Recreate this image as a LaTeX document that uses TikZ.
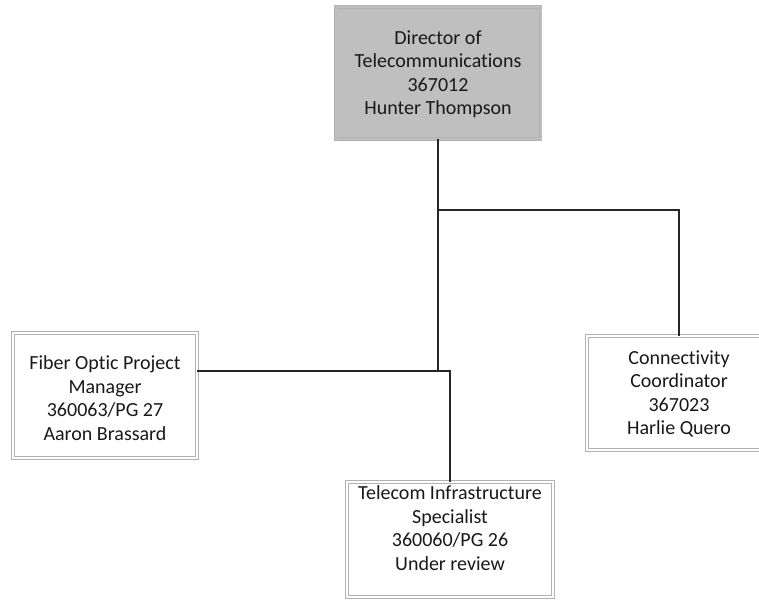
\documentclass[tikz,border=0pt]{standalone}
\usepackage{fontspec}
\setmainfont{Carlito}[Ligatures=NoCommon]
\begin{document}
\begin{tikzpicture}[x=1pt,y=1pt,
  orgbox/.style={draw=gray!60, double=white, double distance=2pt, line width=0.6pt,
    fill=white, inner sep=0pt, anchor=center},
  headbox/.style={orgbox, fill=gray!50, double=gray!50},
  boxtext/.style={align=center, inner sep=0pt, text=black!90, font=\fontsize{20}{23.5}\selectfont},
  conn/.style={draw=black!85, line width=1.5pt}]
  \clip (0,0) rectangle (759,-599);
  \fill[white] (0,0) rectangle (759,-599);

  % boxes
  \node[headbox, minimum width=205, minimum height=132] (dir) at (438,-73) {};
  \node[boxtext] (dirtxt) at (438,-74) {Director of\\Telecommunications\\367012\\Hunter Thompson};

  \node[orgbox, minimum width=184, minimum height=125] (fib) at (105,-395.5) {};
  \node[boxtext] (fibtxt) at (105,-398) {Fiber Optic Project\\Manager\\360063/PG 27\\Aaron Brassard};

  \node[orgbox, minimum width=184, minimum height=114] (con) at (679,-393) {};
  \node[boxtext] (context) at (679,-394) {Connectivity\\Coordinator\\367023\\Harlie Quero};

  \node[orgbox, minimum width=206, minimum height=115] (tel) at (450,-539.5) {};
  \node[boxtext] (teltxt) at (450,-528) {Telecom Infrastructure\\Specialist\\360060/PG 26\\Under review};

  % junctions on the trunk line
  \coordinate (jtop) at (438,-210);
  \coordinate (jlow) at (438,-371);

  % connectors
  \draw[conn] (dir.south) -- (jlow);
  \draw[conn] (jtop) -| (con.north);
  \draw[conn] (fib.east |- jlow) -- (jlow) -| (tel.north);
\end{tikzpicture}
\end{document}
